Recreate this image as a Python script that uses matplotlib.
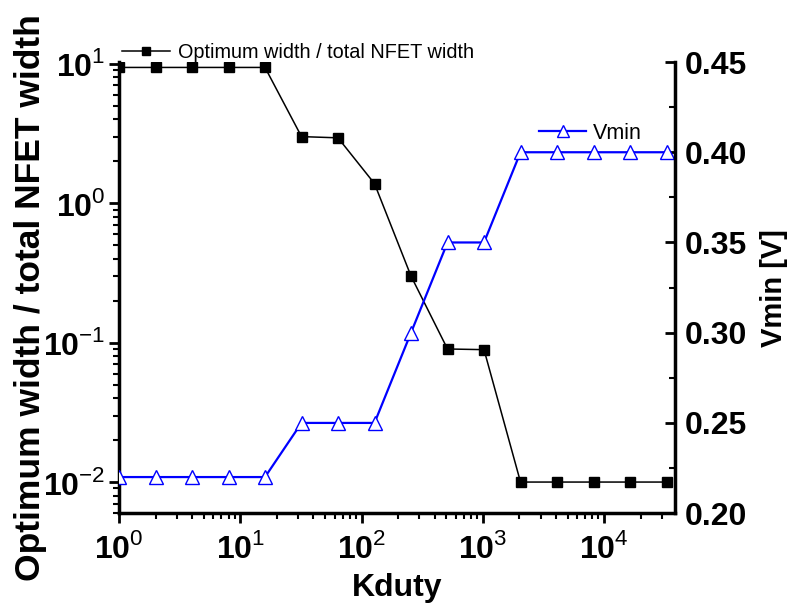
import numpy as np
import matplotlib.pyplot as plt
from matplotlib.ticker import LogLocator, MultipleLocator, FixedLocator

plt.rcParams['font.family'] = ['Liberation Sans', 'DejaVu Sans']
plt.rcParams['mathtext.fontset'] = 'custom'
plt.rcParams['mathtext.rm'] = 'Liberation Sans:bold'
plt.rcParams['mathtext.bf'] = 'Liberation Sans:bold'
plt.rcParams['mathtext.sf'] = 'Liberation Sans'

# data
kduty = [1, 2, 4, 8, 16, 32, 64, 128, 256, 512, 1024, 2048, 4096, 8192, 16384, 32768]
width_ratio = [9.4, 9.4, 9.4, 9.4, 9.4, 3.0, 2.94, 1.38, 0.30, 0.090, 0.089,
               0.010, 0.010, 0.010, 0.010, 0.010]
vmin = [0.22, 0.22, 0.22, 0.22, 0.22, 0.25, 0.25, 0.25, 0.30, 0.35, 0.35,
        0.40, 0.40, 0.40, 0.40, 0.40]

x_ticks = [1, 10, 100, 1000, 10000]
x_ticklabels = [r'$10^{\mathsf{0}}$', r'$10^{\mathsf{1}}$', r'$10^{\mathsf{2}}$',
                r'$10^{\mathsf{3}}$', r'$10^{\mathsf{4}}$']
y_ticks = [0.01, 0.1, 1, 10]
y_ticklabels = [r'$10^{\mathsf{-2}}$', r'$10^{\mathsf{-1}}$', r'$10^{\mathsf{0}}$',
                r'$10^{\mathsf{1}}$']
v_ticks = [0.20, 0.25, 0.30, 0.35, 0.40, 0.45]

fig = plt.figure(figsize=(7.96, 6.08), dpi=100)
ax = fig.add_axes([0.1495, 0.156, 0.6985, 0.742])
ax2 = ax.twinx()

l1, = ax.plot(kduty, width_ratio, color='black', marker='s', markersize=7,
              linewidth=1.1, label='Optimum width / total NFET width')
l2, = ax2.plot(kduty, vmin, color='blue', marker='^', markersize=10,
               markerfacecolor='white', markeredgecolor='blue', markeredgewidth=1,
               linewidth=1.6, label='Vmin')

ax.set_xscale('log')
ax.set_yscale('log')
ax.set_xlim(1, 38500)
ax.set_ylim(10 ** -2.223, 10 ** 1.012)
ax2.set_ylim(0.20, 0.45)

ax.xaxis.set_major_locator(FixedLocator(x_ticks))
ax.set_xticklabels(x_ticklabels)
ax.xaxis.set_minor_locator(LogLocator(base=10, subs=np.arange(2, 10), numticks=20))
ax.yaxis.set_major_locator(FixedLocator(y_ticks))
ax.set_yticklabels(y_ticklabels)
ax.yaxis.set_minor_locator(LogLocator(base=10, subs=np.arange(2, 10), numticks=20))
ax.xaxis.set_minor_formatter(plt.NullFormatter())
ax.yaxis.set_minor_formatter(plt.NullFormatter())

ax2.set_yticks(v_ticks)
ax2.set_yticklabels([f'{v:.2f}' for v in v_ticks])
ax2.yaxis.set_minor_locator(MultipleLocator(0.025))

for a in (ax, ax2):
    a.spines['top'].set_visible(False)
    for s in a.spines.values():
        s.set_linewidth(2.5)
ax.spines['right'].set_visible(False)
ax2.spines['left'].set_visible(False)
ax2.spines['bottom'].set_visible(False)

ax.tick_params(which='major', direction='out', length=7, width=2, labelsize=23)
ax.tick_params(axis='x', which='major', pad=7)
ax.tick_params(axis='y', which='major', pad=3)
ax.tick_params(which='minor', direction='out', length=4, width=1.5)
ax2.tick_params(which='major', direction='in', length=7, width=2, labelsize=23, pad=7)
ax2.tick_params(which='minor', direction='in', length=4, width=1.5)
for lab in ax2.get_yticklabels():
    lab.set_fontweight('bold')

ax.set_xlabel('Kduty', fontsize=23, fontweight='bold', labelpad=6)
ax.set_ylabel('Optimum width / total NFET width', fontsize=25.5, fontweight='bold')
ax.yaxis.set_label_coords(-0.13, 0.477)
ax2.set_ylabel('Vmin [V]', fontsize=21, fontweight='bold', labelpad=9)

ax.legend(handles=[l1], loc='lower left', bbox_to_anchor=(-0.008, 0.982), frameon=False,
          fontsize=14.3, handlelength=2.4, handletextpad=0.4, borderaxespad=0,
          markerscale=0.8)
ax2.legend(handles=[l2], loc='upper left', bbox_to_anchor=(0.74, 0.885), frameon=False,
           fontsize=15.5, handlelength=2.2, handletextpad=0.3, borderaxespad=0,
           markerscale=0.9)

fig.savefig('out.png', dpi=100)
